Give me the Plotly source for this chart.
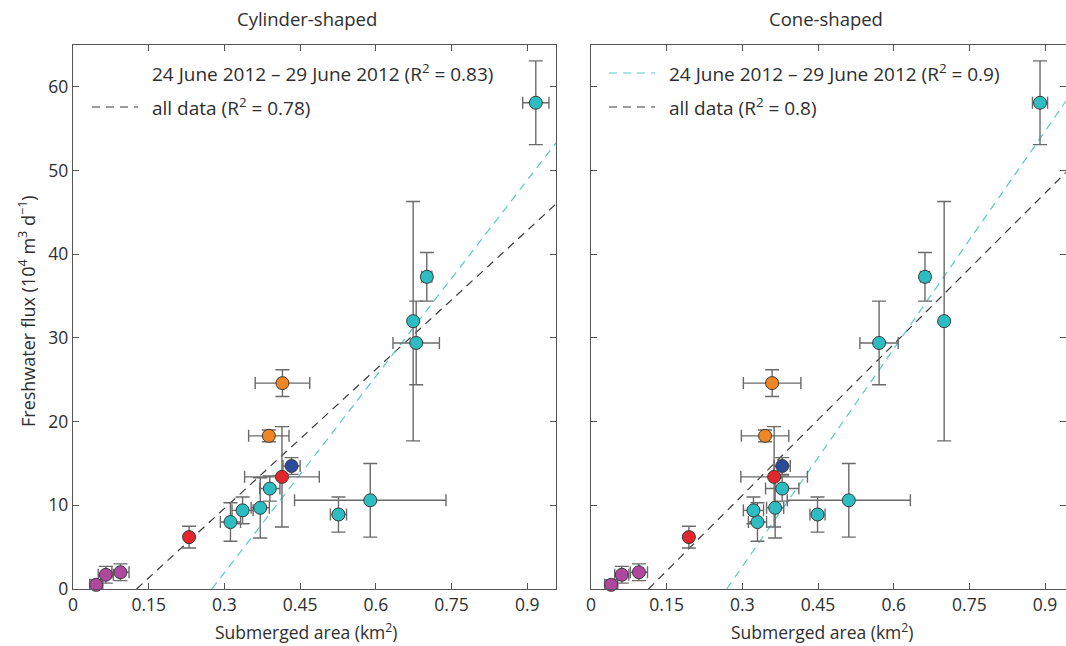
import plotly.graph_objects as go

W, H = 1066, 646

# ---------------- data ----------------
point_colors = ["#B0479F", "#B0479F", "#B0479F", "#E3262B",
                "#2CBDC2", "#2CBDC2", "#2CBDC2", "#2CBDC2",
                "#E3262B", "#2B4A9C", "#F08524", "#F08524",
                "#2CBDC2", "#2CBDC2", "#2CBDC2", "#2CBDC2", "#2CBDC2", "#2CBDC2"]

flux = [0.5, 1.7, 2.0, 6.2, 8.0, 9.4, 9.7, 12.0, 13.4, 14.7, 18.3, 24.6,
        8.9, 10.6, 32.0, 29.4, 37.3, 58.1]
flux_err = [0.6, 1.0, 1.0, 1.3, 2.3, 1.6, 3.6, 1.5, 6.0, 1.0, 0.7, 1.6,
            2.1, 4.4, 14.3, 5.0, 2.9, 5.0]

cyl_area = [0.046, 0.065, 0.094, 0.230, 0.312, 0.336, 0.371, 0.390, 0.414, 0.433,
            0.388, 0.415, 0.526, 0.589, 0.674, 0.680, 0.701, 0.917]
cyl_area_err = [0.013, 0.015, 0.017, 0.004, 0.020, 0.021, 0.018, 0.020, 0.074, 0.017,
                0.040, 0.054, 0.016, 0.150, 0.004, 0.046, 0.010, 0.026]

cone_area = [0.040, 0.061, 0.095, 0.194, 0.330, 0.322, 0.365, 0.379, 0.363, 0.379,
             0.345, 0.359, 0.449, 0.511, 0.700, 0.571, 0.662, 0.890]
cone_area_err = [0.013, 0.014, 0.017, 0.004, 0.018, 0.020, 0.017, 0.033, 0.066, 0.016,
                 0.047, 0.057, 0.015, 0.122, 0.004, 0.038, 0.009, 0.015]

# regression line end points (x, y)
cyl_all_x, cyl_all_y = [0.126, 0.957], [0.0, 46.0]
cyl_june_x, cyl_june_y = [0.275, 0.957], [0.0, 53.3]
cone_all_x, cone_all_y = [0.114, 0.9415], [0.0, 49.8]
cone_june_x, cone_june_y = [0.269, 0.9415], [0.0, 58.3]

x_ticks = [0, 0.15, 0.3, 0.45, 0.6, 0.75, 0.9]
x_tick_text = ["0", "0.15", "0.3", "0.45", "0.6", "0.75", "0.9"]
y_ticks = [0, 10, 20, 30, 40, 50, 60]

panel_titles = ["Cylinder-shaped", "Cone-shaped"]
legend_cyl = ["24 June 2012 \u2013 29 June 2012 (R<sup>2</sup> = 0.83)", "all data (R<sup>2</sup> = 0.78)"]
legend_cone = ["24 June 2012 \u2013 29 June 2012 (R<sup>2</sup> = 0.9)", "all data (R<sup>2</sup> = 0.8)"]

# ---------------- style ----------------
FONT = "Open Sans"
TXT = "#2e2e2e"
AX = "#555555"
ERR = "#6a6a6a"
BLACK_DASH = "#3a3a3a"
CYAN_DASH = "#56C8D2"

ML, MR, MT, MB = 73, 0, 45, 57
PW, PH = W - ML - MR, H - MT - MB

def fx(px):
    return (px - ML) / PW

def fy(py):
    return (H - MB - py) / PH

fig = go.Figure()

def add_panel(xa, ya, area, area_err, all_x, all_y, june_x, june_y):
    fig.add_trace(go.Scatter(x=all_x, y=all_y, mode="lines", xaxis=xa, yaxis=ya,
                             line=dict(color=BLACK_DASH, width=1.2, dash="8px,6px"),
                             showlegend=False, hoverinfo="skip"))
    fig.add_trace(go.Scatter(x=june_x, y=june_y, mode="lines", xaxis=xa, yaxis=ya,
                             line=dict(color=CYAN_DASH, width=1.2, dash="8px,6px"),
                             showlegend=False, hoverinfo="skip"))
    fig.add_trace(go.Scatter(
        x=area, y=flux, mode="markers", xaxis=xa, yaxis=ya, cliponaxis=False,
        marker=dict(size=13, color=point_colors, line=dict(color="#3a3a3a", width=1)),
        error_x=dict(type="data", array=area_err, color=ERR, thickness=1.4, width=6),
        error_y=dict(type="data", array=flux_err, color=ERR, thickness=1.4, width=7),
        showlegend=False))

add_panel("x", "y", cyl_area, cyl_area_err, cyl_all_x, cyl_all_y, cyl_june_x, cyl_june_y)
add_panel("x2", "y2", cone_area, cone_area_err, cone_all_x, cone_all_y, cone_june_x, cone_june_y)

axis_common = dict(showline=True, linecolor=AX, linewidth=1.3, mirror="ticks",
                   ticks="inside", ticklen=6, tickcolor=AX, tickwidth=1.2,
                   showgrid=False, zeroline=False, automargin=False,
                   tickfont=dict(family=FONT, size=17.5, color=TXT))

fig.update_layout(
    width=W, height=H,
    margin=dict(l=ML, r=MR, t=MT, b=MB, pad=0, autoexpand=False),
    paper_bgcolor="white", plot_bgcolor="white",
    xaxis=dict(domain=[fx(73), fx(556)], range=[0, 0.957],
               tickvals=x_ticks, ticktext=x_tick_text, anchor="y", **axis_common),
    yaxis=dict(domain=[0, 1], range=[0, 65], tickvals=y_ticks, anchor="x", **axis_common),
    xaxis2=dict(domain=[fx(591), 1.0], range=[0, 0.9415],
                tickvals=x_ticks, ticktext=x_tick_text, anchor="y2", **axis_common),
    yaxis2=dict(domain=[0, 1], range=[0, 65], tickvals=y_ticks, anchor="x2",
                showticklabels=False, **axis_common),
)

annots = []
def px_ann(x, y, text, size=17, xanchor="left", angle=0):
    annots.append(dict(x=fx(x), y=fy(y), xref="paper", yref="paper", text=text,
                       showarrow=False, xanchor=xanchor, yanchor="middle", textangle=angle,
                       font=dict(family=FONT, size=size, color=TXT)))

# titles
px_ann(307, 19, panel_titles[0], size=18.5, xanchor="center")
px_ann(826, 19, panel_titles[1], size=18.5, xanchor="center")
# axis titles
px_ann(306, 631, "Submerged area (km<sup>2</sup>)", size=17.5, xanchor="center")
px_ann(822, 631, "Submerged area (km<sup>2</sup>)", size=17.5, xanchor="center")
px_ann(27, 311, "Freshwater flux (10<sup>4</sup> m<sup>3</sup> d<sup>\u22121</sup>)", size=18,
       xanchor="center", angle=-90)
# legends
LEG = 19
px_ann(150, 73, legend_cyl[0], size=LEG)
px_ann(150, 107, legend_cyl[1], size=LEG)
px_ann(667, 73, legend_cone[0], size=LEG)
px_ann(667, 107, legend_cone[1], size=LEG)
fig.update_layout(annotations=annots)

shapes = []
def px_line(x0, x1, y, color):
    shapes.append(dict(type="line", xref="paper", yref="paper",
                       x0=fx(x0), x1=fx(x1), y0=fy(y), y1=fy(y),
                       line=dict(color=color, width=1.2, dash="8px,6px")))
px_line(92, 138, 107, BLACK_DASH)
px_line(609, 655, 73, CYAN_DASH)
px_line(609, 655, 107, BLACK_DASH)
fig.update_layout(shapes=shapes)

fig.write_html("out.html", config={"displayModeBar": False},
               post_script="document.body.style.margin='0';")
